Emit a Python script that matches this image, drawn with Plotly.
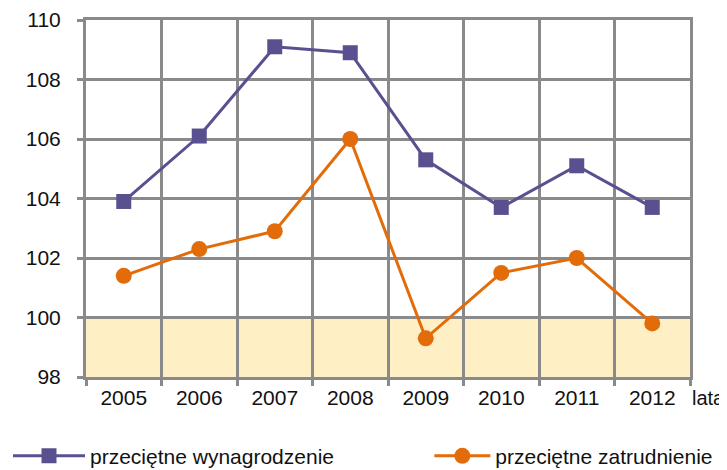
import plotly.graph_objects as go

years = ["2005", "2006", "2007", "2008", "2009", "2010", "2011", "2012"]
wynagrodzenie = [103.9, 106.1, 109.1, 108.9, 105.3, 103.7, 105.1, 103.7]
zatrudnienie = [101.4, 102.3, 102.9, 106.0, 99.3, 101.5, 102.0, 99.8]
y_ticks = [98, 100, 102, 104, 106, 108, 110]
band = [98, 100]

PURPLE = "#58508F"
ORANGE = "#E36C0A"
GRID = "#8A8A8A"
FONT = "Liberation Sans, Arial, sans-serif"
FS = 21

# the page body adds an 8px offset, so the figure is 8px smaller
W, H = 719, 462

fig = go.Figure()
fig.add_trace(go.Scatter(
    x=years, y=wynagrodzenie, name="przeciętne wynagrodzenie",
    mode="lines+markers",
    line=dict(color=PURPLE, width=3),
    marker=dict(symbol="square", size=15, color=PURPLE),
    legend="legend", showlegend=True,
))
fig.add_trace(go.Scatter(
    x=years, y=zatrudnienie, name="przeciętne zatrudnienie",
    mode="lines+markers",
    line=dict(color=ORANGE, width=3),
    marker=dict(symbol="circle", size=16, color=ORANGE),
    legend="legend2", showlegend=True,
))

fig.add_shape(type="rect", xref="paper", yref="y", x0=0, x1=1,
              y0=band[0], y1=band[1], fillcolor="#FEEFC4",
              line=dict(width=0), layer="below")

fig.add_annotation(text="lata", xref="paper", yref="paper", x=1.0, y=-0.058,
                   xanchor="left", yanchor="middle", showarrow=False,
                   font=dict(size=20, color="#111111", family=FONT))

fig.update_layout(
    width=W, height=H, showlegend=True,
    margin=dict(l=78, r=37, t=12, b=93, autoexpand=False),
    paper_bgcolor="white", plot_bgcolor="white",
    font=dict(family=FONT, size=FS, color="#111111"),
    legend=dict(orientation="h", xref="container", yref="container",
                x=0.0, y=0.03, xanchor="left", yanchor="middle",
                font=dict(size=21), itemwidth=72, bgcolor="rgba(0,0,0,0)"),
    legend2=dict(orientation="h", xref="container", yref="container",
                 x=0.586, y=0.03, xanchor="left", yanchor="middle",
                 font=dict(size=21), itemwidth=56, bgcolor="rgba(0,0,0,0)"),
    xaxis=dict(type="category", tickson="boundaries", showgrid=True,
               gridcolor=GRID, gridwidth=3, ticks="outside", ticklen=6,
               tickwidth=3, tickcolor=GRID, showline=True, linecolor=GRID,
               linewidth=3, mirror=True, range=[-0.5, 7.5], zeroline=False,
               automargin=False),
    yaxis=dict(range=[98, 110], tickvals=y_ticks, showgrid=True,
               gridcolor=GRID, gridwidth=3, ticks="outside", ticklen=6,
               tickwidth=3, tickcolor=GRID, showline=True, linecolor=GRID,
               linewidth=3, mirror=True, zeroline=False, ticklabelstandoff=12,
               automargin=False),
)

fig.write_html("out.html")
